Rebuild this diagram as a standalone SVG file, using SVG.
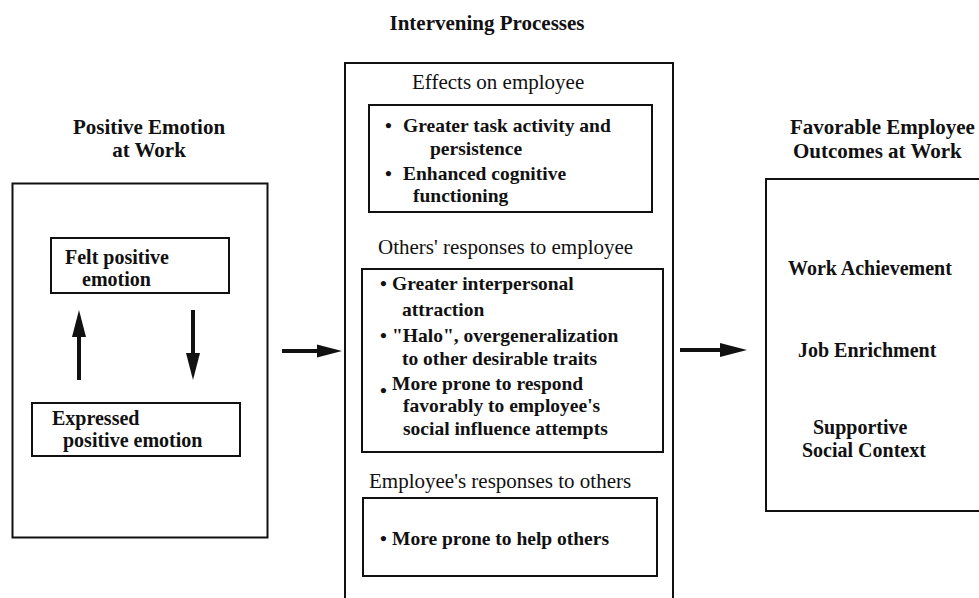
<svg xmlns="http://www.w3.org/2000/svg" width="979" height="598" viewBox="0 0 979 598">
<style>
.box{fill:none;stroke:#111;stroke-width:2}
.t{font-family:"Liberation Serif","Times New Roman",serif;fill:#111}
.title{font-size:21px;font-weight:bold}
.hdr{font-size:21px}
.item{font-size:20px;font-weight:bold}
.bul{font-size:19.5px;font-weight:bold}
.arr{stroke:#111;stroke-width:4;fill:none}
</style>
<defs>
<marker id="ah" markerUnits="userSpaceOnUse" markerWidth="27" markerHeight="14" refX="0" refY="7" orient="auto" overflow="visible">
<path d="M0,0 L27,7 L0,14 z" fill="#111"/>
</marker>
<marker id="ahs" markerUnits="userSpaceOnUse" markerWidth="25" markerHeight="13" refX="0" refY="6.5" orient="auto" overflow="visible">
<path d="M0,0 L25,6.5 L0,13 z" fill="#111"/>
</marker>
</defs>

<text class="t title" x="487" y="30" text-anchor="middle">Intervening Processes</text>

<g id="positive-emotion">
<text class="t title" x="149" y="134" text-anchor="middle">Positive Emotion</text>
<text class="t title" x="149" y="157" text-anchor="middle">at Work</text>
<rect class="box" x="12.5" y="183.5" width="255" height="354"/>
</g>
<g id="felt">
<rect class="box" x="51" y="238" width="178" height="55"/>
<text class="t item" x="65" y="264">Felt positive</text>
<text class="t item" x="82" y="286">emotion</text>
</g>
<g id="expressed">
<rect class="box" x="32" y="403" width="208" height="53"/>
<text class="t item" x="52" y="425">Expressed</text>
<text class="t item" x="63" y="447">positive emotion</text>
</g>

<g id="intervening">
<path class="box" d="M345,599 V63 H673 V599"/>
<text class="t hdr" x="412" y="89">Effects on employee</text>
<text class="t hdr" x="378" y="254">Others' responses to employee</text>
<text class="t hdr" x="369" y="488">Employee's responses to others</text>
</g>
<g id="effects">
<rect class="box" x="369" y="105" width="283" height="107"/>
<text class="t bul" x="385" y="132">•</text>
<text class="t bul" x="403" y="132">Greater task activity and</text>
<text class="t bul" x="430" y="155">persistence</text>
<text class="t bul" x="385" y="180">•</text>
<text class="t bul" x="403" y="180">Enhanced cognitive</text>
<text class="t bul" x="413" y="202">functioning</text>
</g>
<g id="others-responses">
<rect class="box" x="362" y="269" width="301" height="183"/>
<text class="t bul" x="380" y="290">•</text>
<text class="t bul" x="392" y="290">Greater interpersonal</text>
<text class="t bul" x="402" y="316">attraction</text>
<text class="t bul" x="380" y="342">•</text>
<text class="t bul" x="392" y="342">"Halo", overgeneralization</text>
<text class="t bul" x="402" y="365">to other desirable traits</text>
<text class="t bul" x="380" y="397">•</text>
<text class="t bul" x="392" y="390">More prone to respond</text>
<text class="t bul" x="403" y="412">favorably to employee's</text>
<text class="t bul" x="403" y="435">social influence attempts</text>
</g>
<g id="employee-responses">
<rect class="box" x="363" y="498" width="294" height="78"/>
<text class="t bul" x="380" y="545">•</text>
<text class="t bul" x="392" y="545">More prone to help others</text>
</g>

<g id="outcomes">
<text class="t title" x="790" y="134">Favorable Employee</text>
<text class="t title" x="793" y="158">Outcomes at Work</text>
<rect class="box" x="766" y="179" width="230" height="332"/>
<text class="t item" x="788" y="275">Work Achievement</text>
<text class="t item" x="798" y="357">Job Enrichment</text>
<text class="t item" x="813" y="434">Supportive</text>
<text class="t item" x="802" y="457">Social Context</text>
</g>

<g id="connectors">
<line class="arr" x1="79" y1="380" x2="79" y2="337" marker-end="url(#ah)"/>
<line class="arr" x1="193" y1="310" x2="193" y2="353" marker-end="url(#ah)"/>
<line class="arr" x1="282" y1="351" x2="317" y2="351" marker-end="url(#ahs)"/>
<line class="arr" x1="680" y1="350" x2="720" y2="350" marker-end="url(#ah)"/>
</g>
</svg>
